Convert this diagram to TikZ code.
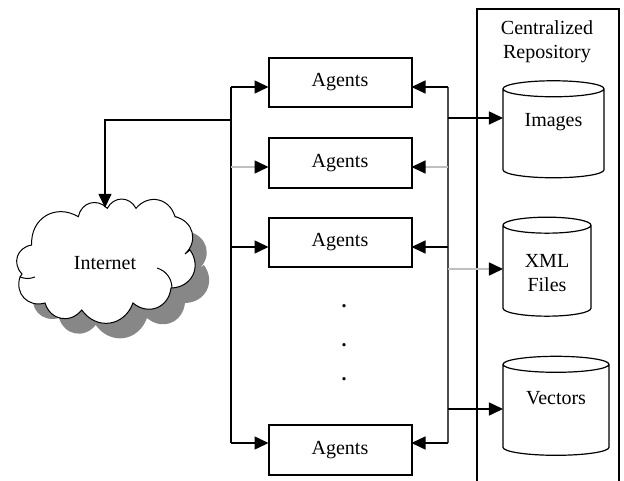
\documentclass[tikz,border=0pt]{standalone}
\usepackage{fontspec}
\setmainfont{Liberation Serif}
\usetikzlibrary{positioning,arrows.meta,shapes.geometric}
\newcommand{\cloudpath}{(31.7,245) to[puff] (78.3,216.7) to[puff] (107.3,208.3) to[puff] (136,208.3)
  to[puff] (175,216.7) to[puff] (185,254) -- (190,250) to[puff] (171,288) to[puff] (133,303)
  to[puff] (81.7,310) to[puff] (45,303) to[puff] (20,277) -- (22,274) to[puff] (31.7,245) -- cycle}
\tikzset{
  puff/.style={bend left=62,looseness=1.25},
  agent/.style={draw,line width=2pt,outer sep=0pt,minimum width=143pt,minimum height=49.5pt},
  store/.style={draw,line width=1.2pt,fill=white,cylinder,shape border rotate=90,aspect=2.4,outer sep=0pt},
  link/.style={line width=1.5pt,-{Triangle[length=14pt,width=13pt,color=black]}},
  faint/.style={link,draw=black!25},
  bus/.style={line width=1.5pt},
  tag/.style={font=\fontsize{20}{24}\selectfont,align=center}
}
\begin{document}
\begin{tikzpicture}[x=1pt,y=-1pt,tag]
    \useasboundingbox (0,0) rectangle (624,481);
    \fill[black!47,shift={(14,15)}] \cloudpath;
    \draw[line width=1pt,fill=white] \cloudpath;
    \draw[line width=1pt] (157,268) to[bend left=35] (172,288);
    \draw[line width=1pt] (35,277) to[bend left=20] (20,277);
    \node (inet) [minimum width=170pt,minimum height=110pt] at (105,263) {Internet};
    \node (ag1) [agent] at (340,82.5) {Agents};
    \node (ag2) [agent,below=31pt of ag1] {Agents};
    \node (ag3) [agent,below=30pt of ag2] {Agents};
    \node (ag4) [agent,below=158pt of ag3] {Agents};
    \node (d1) [font=\fontsize{20}{24}\bfseries] at (344,306) {.};
    \node (d2) [font=\fontsize{20}{24}\bfseries,below=29pt of d1] {.};
    \node (d3) [font=\fontsize{20}{24}\bfseries,below=24pt of d2] {.};
    \node (repo) [draw,line width=1.8pt,minimum width=142pt,minimum height=500pt,anchor=north west] at (476,8) {};
    \node (title) at (547,42) {Centralized\\Repository};
    \node (img) [store,minimum width=101pt,minimum height=97pt,label={[yshift=12.5pt]center:Images}] at (553.5,135) {};
    \node (xml) [store,minimum width=88pt,minimum height=99pt,label={[yshift=-1pt,align=center]center:XML\\Files}] at (547,272.5) {};
    \node (vec) [store,minimum width=106pt,minimum height=99pt,label={[yshift=13pt]center:Vectors}] at (556,411.5) {};
    \coordinate (lt) at (231,87);
    \coordinate (lb) at (231,443);
    \coordinate (rt) at (448,87);
    \coordinate (rb) at (448,443);
    \coordinate (lnet) at (231,120);
    \draw[bus] (lt) -- (lb);
    \draw[bus,black!70] (rt) -- (rb);
    \draw[link] (lnet) -| (inet.north);
    \draw[link] (lt) -- (lt -| ag1.west);
    \draw[faint] (231,167) -- (ag2.west |- 231,167);
    \draw[link] (231,247) -- (ag3.west |- 231,247);
    \draw[link] (lb) -- (lb -| ag4.west);
    \draw[link] (rt) -- (rt -| ag1.east);
    \draw[faint] (448,167) -- (ag2.east |- 448,167);
    \draw[link] (448,247) -- (ag3.east |- 448,247);
    \draw[link] (rb) -- (rb -| ag4.east);
    \draw[link] (448,118) -- (img.west |- 448,118);
    \draw[faint] (448,269) -- (xml.west |- 448,269);
    \draw[link] (448,409) -- (vec.west |- 448,409);
  \end{tikzpicture}
\end{document}
